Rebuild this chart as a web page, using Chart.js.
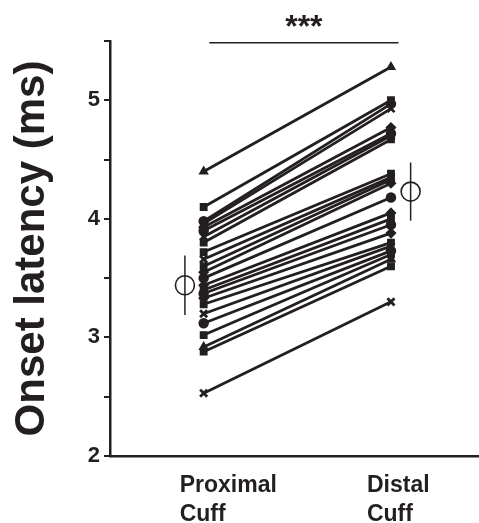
<!DOCTYPE html>
<html>
<head>
<meta charset="utf-8">
<script src="https://cdn.jsdelivr.net/npm/chart.js@4/dist/chart.umd.min.js"></script>
<style>
  html, body { margin: 0; padding: 0; background: #fff; }
  #wrap { width: 479px; height: 523px; position: relative; }
</style>
</head>
<body>
<div id="wrap"><canvas id="latencyChart"></canvas></div>
<script>
// categories (x = 1 proximal, x = 2 distal)
const cuffLabels = [['Proximal', 'Cuff'], ['Distal', 'Cuff']];

// onset latency per subject (ms)
const proximal = [4.40, 4.10, 3.98, 3.96, 3.93, 3.90, 3.85, 3.80, 3.72, 3.66, 3.60, 3.55,
                  3.50, 3.44, 3.40, 3.37, 3.33, 3.28, 3.20, 3.12, 3.02, 2.92, 2.88, 2.53];
const distal   = [5.28, 5.00, 4.97, 4.93, 4.77, 4.72, 4.70, 4.67, 4.38, 4.35, 4.33, 4.30,
                  4.18, 4.05, 4.00, 3.95, 3.88, 3.80, 3.77, 3.73, 3.70, 3.66, 3.60, 3.30];

// group mean and SD
const groupMean = [3.44, 4.23];
const groupSD   = [0.25, 0.245];

// significance bar
const sigFrom = 1.03, sigTo = 2.04, sigLevel = 5.485;
const sigText = '***';

const ink = '#231f20';
const shapes = ['triangle', 'rect', 'circle', 'crossRot', 'rectRot', 'circle', 'crossRot', 'rect',
                'rect', 'crossRot', 'rect', 'rectRot', 'circle', 'rectRot', 'rect', 'circle',
                'rectRot', 'rect', 'crossRot', 'circle', 'rect', 'triangle', 'rect', 'crossRot'];

const datasets = [];
proximal.forEach((p, i) => {
    const shape = shapes[i % shapes.length];
    datasets.push({
        data: [{x: 1, y: p}, {x: 2, y: distal[i]}],
        showLine: true,
        borderColor: ink,
        backgroundColor: ink,
        borderWidth: 2.8,
        pointStyle: shape,
        pointRadius: shape === 'crossRot' ? 5 : 4.5,
        pointBorderWidth: shape === 'crossRot' ? 2.8 : 1.5
    });
});

// error bars (mean +/- SD), offset a bit from the paired points
const meanX = [0.9, 2.105];
groupMean.forEach((m, i) => {
    datasets.push({
        data: [{x: meanX[i], y: m - groupSD[i]}, {x: meanX[i], y: m + groupSD[i]}],
        showLine: true,
        borderColor: ink,
        borderWidth: 1.5,
        pointRadius: 0
    });
});
datasets.push({
    data: groupMean.map((m, i) => ({x: meanX[i], y: m})),
    showLine: false,
    pointStyle: 'circle',
    pointRadius: 9.5,
    pointBackgroundColor: '#fff',
    pointBorderColor: ink,
    pointBorderWidth: 1.6
});
datasets.push({
    data: [{x: sigFrom, y: sigLevel}, {x: sigTo, y: sigLevel}],
    showLine: true,
    borderColor: ink,
    borderWidth: 1.5,
    pointRadius: 0,
    clip: false
});

// category labels and stars
const labelPlugin = {
    id: 'labelPlugin',
    afterDraw(chart) {
        const ctx = chart.ctx;
        const xs = chart.scales.x;
        ctx.save();
        ctx.fillStyle = ink;
        ctx.font = 'bold 23px "Liberation Sans", Arial, sans-serif';
        ctx.textAlign = 'left';
        ctx.textBaseline = 'alphabetic';
        cuffLabels.forEach((lines, i) => {
            const px = xs.getPixelForValue(i + 1) - 24;
            lines.forEach((t, j) => ctx.fillText(t, px, 492 + j * 29));
        });
        ctx.font = 'bold 32px "Liberation Sans", Arial, sans-serif';
        ctx.textAlign = 'center';
        const mid = (xs.getPixelForValue(sigFrom) + xs.getPixelForValue(sigTo)) / 2;
        ctx.fillText(sigText, mid, 37);
        ctx.restore();
    }
};

new Chart(document.getElementById('latencyChart'), {
    type: 'scatter',
    data: { datasets: datasets },
    options: {
        responsive: true,
        maintainAspectRatio: false,
        animation: false,
        layout: { autoPadding: false, padding: { top: 41, right: 0, bottom: 0, left: 0 } },
        plugins: {
            legend: { display: false },
            tooltip: { enabled: false }
        },
        scales: {
            x: {
                type: 'linear',
                min: 0.5,
                max: 2.47,
                grid: { display: false },
                border: { display: true, color: ink, width: 2.5 },
                ticks: { display: false },
                afterFit: (scale) => { scale.height = 67; }
            },
            y: {
                min: 2,
                max: 5.5,
                grid: { display: true, drawOnChartArea: false, drawTicks: true, tickLength: 6, color: ink, lineWidth: 2 },
                border: { display: true, color: ink, width: 2.5 },
                ticks: {
                    stepSize: 0.5,
                    padding: 4,
                    color: ink,
                    font: { family: '"Liberation Sans", Arial, sans-serif', size: 22, weight: 'bold' },
                    callback: (v) => Number.isInteger(v) ? String(v) : ''
                },
                title: {
                    display: true,
                    text: 'Onset latency (ms)',
                    color: ink,
                    padding: { top: 7, bottom: 0 },
                    font: { family: '"Liberation Sans", Arial, sans-serif', size: 42, weight: 'bold' }
                },
                afterFit: (scale) => { scale.width = 110; }
            }
        }
    },
    plugins: [labelPlugin]
});
</script>
</body>
</html>
